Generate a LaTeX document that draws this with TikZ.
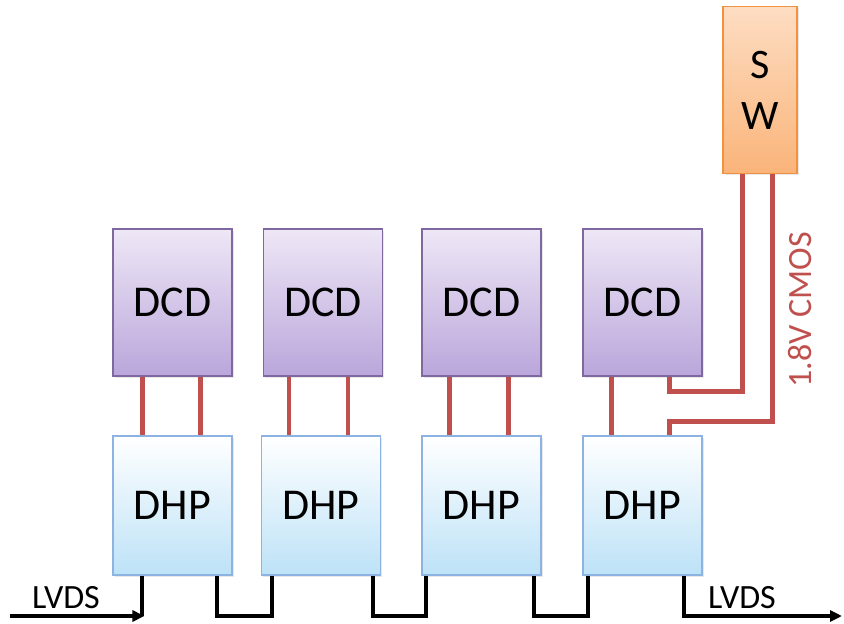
\documentclass[tikz,border=0pt]{standalone}
\usepackage{fontspec}
\setmainfont{Carlito}
\usetikzlibrary{arrows.meta,shadings,shadows,calc}

\definecolor{wirered}{HTML}{C0504D}
\definecolor{dcdtop}{HTML}{EEE7F6}
\definecolor{dcdbot}{HTML}{BAA6DB}
\definecolor{dcdline}{HTML}{7F68A0}
\definecolor{dhptop}{HTML}{FFFFFF}
\definecolor{dhpbot}{HTML}{BDE2F7}
\definecolor{dhpline}{HTML}{8DB3E2}
\definecolor{swtop}{HTML}{FDDDC2}
\definecolor{swbot}{HTML}{FAB47A}
\definecolor{swline}{HTML}{F2913F}

\tikzset{
  chip/.style={minimum width=119pt, inner sep=0pt, line width=1.2pt,
    font=\fontsize{44}{52}\selectfont,
    drop shadow={opacity=0.18, shadow xshift=1.5pt, shadow yshift=-1.5pt}},
  dcdbox/.style={chip, minimum height=147pt, draw=dcdline, top color=dcdtop, bottom color=dcdbot},
  dhpbox/.style={chip, minimum height=139pt, draw=dhpline, top color=dhptop, bottom color=dhpbot},
  swbox/.style={minimum width=74pt, minimum height=167pt, inner sep=0pt, line width=1.2pt,
    draw=swline, top color=swtop, bottom color=swbot, align=center,
    font=\fontsize{42}{51}\selectfont,
    drop shadow={opacity=0.18, shadow xshift=1.5pt, shadow yshift=-1.5pt}},
  wire/.style={draw=wirered, line width=4.5pt},
  bus/.style={draw=black, line width=4pt},
  busarrow/.style={bus, -{Triangle[length=12pt,width=11pt]}},
  lbl/.style={font=\fontsize{34}{38}\selectfont, inner sep=0pt},
}

\begin{document}
\begin{tikzpicture}[x=1pt, y=-1pt]
  \useasboundingbox (0,0) rectangle (844,624);

  % sensor readout chips
  \node[dcdbox] (dcd1) at (172.5,302.5) {DCD};
  \node[dcdbox] (dcd2) at (323,302.5)   {DCD};
  \node[dcdbox] (dcd3) at (481.5,302.5) {DCD};
  \node[dcdbox] (dcd4) at (642.5,302.5) {DCD};

  \node[dhpbox] (dhp1) at (172.5,505.5) {DHP};
  \node[dhpbox] (dhp2) at (321,505.5)   {DHP};
  \node[dhpbox] (dhp3) at (481.5,505.5) {DHP};
  \node[dhpbox] (dhp4) at (642.5,505.5) {DHP};

  % switcher
  \node[swbox] (sw) at (760,90) {S\\W};

  % DCD to DHP links
  \draw[wire] ([xshift=30pt]dcd1.south west) -- ([xshift=30pt]dcd1.south west |- dhp1.north);
  \draw[wire] ([xshift=88pt]dcd1.south west) -- ([xshift=88pt]dcd1.south west |- dhp1.north);
  \draw[wire] ([xshift=26pt]dcd2.south west) -- ([xshift=26pt]dcd2.south west |- dhp2.north);
  \draw[wire] ([xshift=85pt]dcd2.south west) -- ([xshift=85pt]dcd2.south west |- dhp2.north);
  \draw[wire] ([xshift=28pt]dcd3.south west) -- ([xshift=28pt]dcd3.south west |- dhp3.north);
  \draw[wire] ([xshift=87pt]dcd3.south west) -- ([xshift=87pt]dcd3.south west |- dhp3.north);
  \draw[wire] ([xshift=29pt]dcd4.south west) -- ([xshift=29pt]dcd4.south west |- dhp4.north);

  % switcher control lines
  \coordinate (t1) at ([xshift=87pt]dcd4.south west);
  \coordinate (t2) at ([xshift=87pt]dhp4.north west);
  \draw[wire] ([xshift=20pt]sw.south west) |- ($(t1)+(0,15)$) -- (t1);
  \draw[wire] ([xshift=50pt]sw.south west) |- ($(t2)+(0,-14)$) -- (t2);
  \node[lbl, text=wirered, rotate=90] (cmos) at (800,310) {1.8V CMOS};

  % LVDS chain
  \coordinate (lin) at (10,616);
  \coordinate (lout) at (842,616);
  \draw[bus] ([xshift=30pt]dhp1.south west) -- ([xshift=30pt]dhp1.south west |- lin);
  \draw[busarrow] (lin) -- ([xshift=32pt]dhp1.south west |- lin);
  \draw[bus] ([xshift=105pt]dhp1.south west) -- ([xshift=105pt]dhp1.south west |- lin)
             -| ([xshift=11pt]dhp2.south west);
  \draw[bus] ([xshift=112pt]dhp2.south west) -- ([xshift=112pt]dhp2.south west |- lin)
             -| ([xshift=5pt]dhp3.south west);
  \draw[bus] ([xshift=113pt]dhp3.south west) -- ([xshift=113pt]dhp3.south west |- lin)
             -| ([xshift=6pt]dhp4.south west);
  \draw[busarrow] ([xshift=102pt]dhp4.south west) |- (lout);

  \node[lbl] (lvdsin) at (66,598) {LVDS};
  \node[lbl] (lvdsout) at (742,598) {LVDS};
\end{tikzpicture}
\end{document}
